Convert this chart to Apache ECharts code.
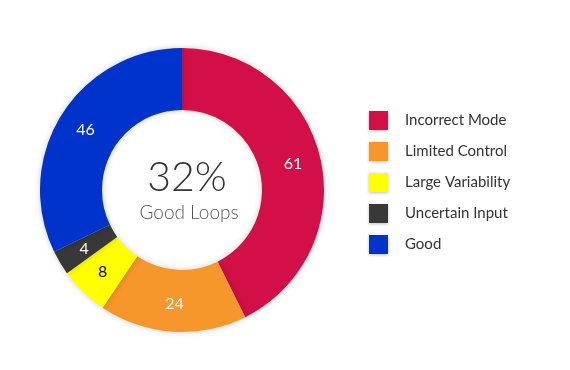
<!DOCTYPE html>
<html><head><meta charset="utf-8">
<script src="https://cdn.jsdelivr.net/npm/echarts@6/dist/echarts.min.js"></script>
<style>html,body{margin:0;padding:0;background:#fff}#c{width:570px;height:370px}</style>
</head><body><div id="c"></div>
<script>
const categories = ["Incorrect Mode", "Limited Control", "Large Variability", "Uncertain Input", "Good"];
const values = [61, 24, 8, 4, 46];
const colors = ["#D20F46", "#F7962A", "#FFFF00", "#383838", "#0033CC"];
const labelColors = ["#ffffff", "#ffffff", "#000000", "#ffffff", "#ffffff"];
const centerValue = "32%";
const centerLabel = "Good Loops";

const chart = echarts.init(document.getElementById('c'));
const font = 'Lato, "Noto Sans", sans-serif';
chart.setOption({
  animation: false,
  legend: {
    orient: 'vertical',
    left: 364, top: 106,
    itemWidth: 19, itemHeight: 19, itemGap: 12,
    icon: 'rect',
    textStyle: { fontFamily: font, fontSize: 15, color: '#333', padding: [0,0,0,12] },
    itemStyle: { shadowBlur: 3, shadowColor: 'rgba(0,0,0,0.25)', shadowOffsetY: 1 },
    data: categories
  },
  title: [
    { text: centerValue, left: 182, top: 152, textAlign: 'center',
      textStyle: { fontFamily: font, fontWeight: 300, fontSize: 41, color: '#333' } },
    { text: centerLabel, left: 184, top: 198, textAlign: 'center',
      textStyle: { fontFamily: font, fontWeight: 300, fontSize: 19, color: '#555' } }
  ],
  series: [{
    type: 'pie',
    center: [182, 190],
    radius: [80, 142],
    startAngle: 90,
    clockwise: true,
    itemStyle: { shadowBlur: 6, shadowColor: 'rgba(0,0,0,0.2)' },
    label: { position: 'inside', formatter: '{c}', fontFamily: font, fontSize: 16, fontWeight: 400 },
    labelLine: { show: false },
    emphasis: { disabled: true },
    data: categories.map((n, i) => ({
      name: n, value: values[i],
      itemStyle: { color: colors[i] },
      label: { color: labelColors[i] }
    }))
  }]
});
</script></body></html>
